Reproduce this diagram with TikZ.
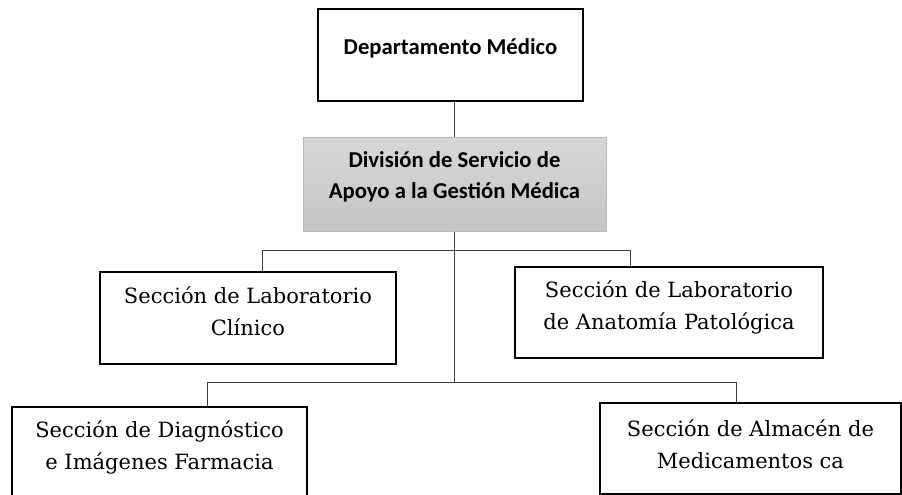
\documentclass[tikz,border=0pt]{standalone}
\usepackage{fontspec}
\setmainfont{DejaVu Serif}
\newfontfamily\carl{Carlito}
\usetikzlibrary{calc}
\definecolor{linecol}{RGB}{60,60,60}
\definecolor{grayA}{RGB}{216,216,216}
\definecolor{grayB}{RGB}{196,196,196}
\definecolor{grayBorder}{RGB}{185,185,185}
\tikzset{
  box/.style={draw=black, line width=1.6pt, inner sep=0pt, fill=white},
  graybox/.style={draw=grayBorder, line width=1pt, inner sep=0pt, top color=grayA, bottom color=grayB},
  conn/.style={draw=linecol, line width=0.9pt},
  headtext/.style={font=\carl\bfseries\fontsize{22.7}{31}\selectfont, align=center, inner sep=0pt},
  sectext/.style={font=\fontsize{21}{32}\selectfont, align=center, inner sep=0pt}
}
\begin{document}
\begin{tikzpicture}[x=1pt,y=-1pt]
\clip (0,0) rectangle (902,495);
\fill[white] (0,0) rectangle (902,495);
% boxes
\node[box, minimum width=265pt, minimum height=92pt] (top) at (450.5,55) {};
\node[graybox, minimum width=303pt, minimum height=94pt] (div) at (454.5,184) {};
\node[box, minimum width=296pt, minimum height=92pt] (lab1) at (248,318) {};
\node[box, minimum width=308pt, minimum height=91pt] (lab2) at (669,312.5) {};
\node[box, minimum width=295pt, minimum height=95pt] (diag) at (159.5,454.5) {};
\node[box, minimum width=301pt, minimum height=91pt] (alm) at (750.5,448.5) {};
% texts
\node[headtext] (ttop) at (450.5,48) {Departamento Médico};
\node[headtext] (tdiv) at (454.5,177) {División de Servicio de\\Apoyo a la Gestión Médica};
\node[sectext] (tlab1) at (248,311) {Sección de Laboratorio\\Clínico};
\node[sectext] (tlab2) at (669,307) {Sección de Laboratorio\\de Anatomía Patológica};
\node[sectext] (tdiag) at (159.5,447) {Sección de Diagnóstico\\e Imágenes Farmacia};
\node[sectext] (talm) at (750.5,444) {Sección de Almacén de\\Medicamentos ca};
% junctions
\coordinate (h1l) at (262,250);
\coordinate (h1r) at (630,250);
\coordinate (h2l) at (207,382);
\coordinate (h2r) at (736,382);
% connectors
\draw[conn] (div.north |- top.south) -- (div.north);
\draw[conn] (div.south) -- (div.south |- h2l);
\draw[conn] (h1l) -- (h1r);
\draw[conn] (h1l) -- (h1l |- lab1.north);
\draw[conn] (h1r) -- (h1r |- lab2.north);
\draw[conn] (h2l) -- (h2r);
\draw[conn] (h2l) -- (h2l |- diag.north);
\draw[conn] (h2r) -- (h2r |- alm.north);
\end{tikzpicture}
\end{document}
